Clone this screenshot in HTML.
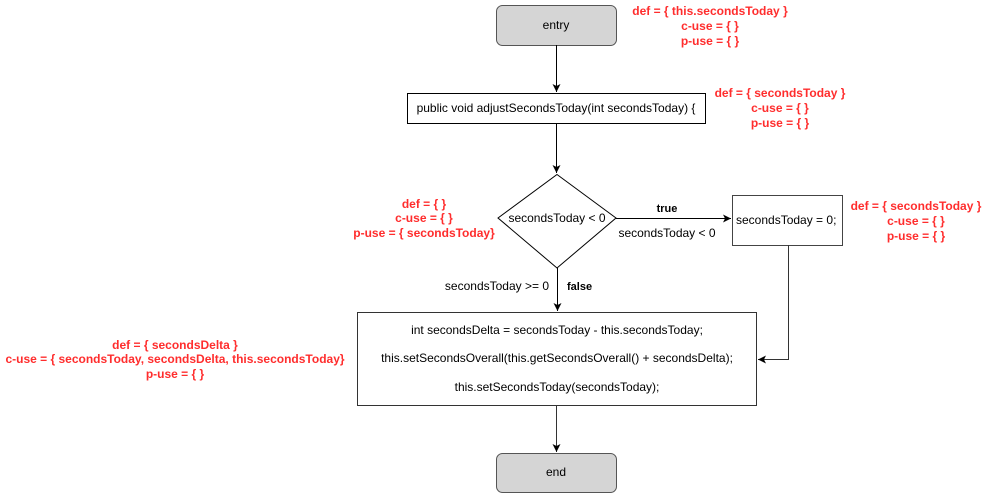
<!DOCTYPE html>
<html><head><meta charset="utf-8"><style>
html,body{margin:0;padding:0;background:#fff;width:993px;height:494px;overflow:hidden}
svg{display:block}
text{font-family:"Liberation Sans",Arial,sans-serif;font-size:12px;fill:#000}
.r{fill:#ff2d2d;font-weight:bold}
.b{font-weight:bold;font-size:11px}
</style></head><body>
<svg width="993" height="494" viewBox="0 0 993 494" xmlns="http://www.w3.org/2000/svg">
<defs><marker id="a" markerWidth="10" markerHeight="10" refX="8" refY="4" orient="auto" markerUnits="userSpaceOnUse"><path d="M0,0 L8,4 L0,8 L2,4 Z" fill="#000"/></marker></defs>
<g stroke="#000" stroke-width="1" fill="none">
<rect x="496.5" y="5.5" width="120" height="40" rx="6" fill="#d5d5d5" stroke="#555"/>
<line x1="556.5" y1="45" x2="556.5" y2="92" marker-end="url(#a)"/>
<rect x="407.5" y="93.5" width="298" height="30" fill="#fff"/>
<line x1="556.5" y1="124" x2="556.5" y2="173" marker-end="url(#a)"/>
<polygon points="557,174.5 616,218 557,268 498,218" fill="#fff"/>
<line x1="616" y1="218.5" x2="731" y2="218.5" marker-end="url(#a)"/>
<rect x="732.5" y="195.5" width="110" height="50" fill="#fff" stroke="#444"/>
<line x1="557.5" y1="268" x2="557.5" y2="311" marker-end="url(#a)"/>
<rect x="357.5" y="312.5" width="399" height="93" fill="#fff" stroke="#333"/>
<polyline points="788.5,245 788.5,359.5 758,359.5" marker-end="url(#a)" stroke="#333"/>
<line x1="556.5" y1="406" x2="556.5" y2="452" marker-end="url(#a)" stroke="#333"/>
<rect x="496.5" y="453.5" width="120" height="39" rx="6" fill="#d5d5d5" stroke="#555"/>
</g>
<text x="556" y="29" text-anchor="middle">entry</text>
<text x="556" y="112" text-anchor="middle">public void adjustSecondsToday(int secondsToday) {</text>
<text x="557" y="222" text-anchor="middle">secondsToday &lt; 0</text>
<text x="667" y="212" text-anchor="middle" class="b">true</text>
<text x="667" y="237" text-anchor="middle">secondsToday &lt; 0</text>
<text x="736" y="224">secondsToday = 0;</text>
<text x="549" y="290" text-anchor="end">secondsToday &gt;= 0</text>
<text x="567" y="290" class="b">false</text>
<text x="557" y="334" text-anchor="middle">int secondsDelta = secondsToday - this.secondsToday;</text>
<text x="557" y="362" text-anchor="middle">this.setSecondsOverall(this.getSecondsOverall() + secondsDelta);</text>
<text x="557" y="391" text-anchor="middle">this.setSecondsToday(secondsToday);</text>
<text x="556" y="476" text-anchor="middle">end</text>
<g class="r" text-anchor="middle">
<text class="r" x="710" y="15">def = { this.secondsToday }</text>
<text class="r" x="710" y="30">c-use = { }</text>
<text class="r" x="710" y="45">p-use = { }</text>
<text class="r" x="780" y="97">def = { secondsToday }</text>
<text class="r" x="780" y="112">c-use = { }</text>
<text class="r" x="780" y="127">p-use = { }</text>
<text class="r" x="424" y="208">def = { }</text>
<text class="r" x="424" y="222">c-use = { }</text>
<text class="r" x="424" y="237">p-use = { secondsToday}</text>
<text class="r" x="916" y="210">def = { secondsToday }</text>
<text class="r" x="916" y="225">c-use = { }</text>
<text class="r" x="916" y="240">p-use = { }</text>
<text class="r" x="175" y="349">def = { secondsDelta }</text>
<text class="r" x="175" y="363">c-use = { secondsToday, secondsDelta, this.secondsToday}</text>
<text class="r" x="175" y="378">p-use = { }</text>
</g>
</svg>
</body></html>
